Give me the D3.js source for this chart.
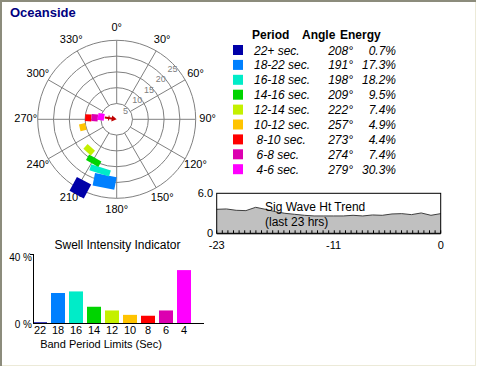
<!DOCTYPE html>
<html>
<head>
<meta charset="utf-8">
<script src="https://cdn.jsdelivr.net/npm/d3@7"></script>
<style>
  body { margin: 0; background: #fff; }
  svg { display: block; font-family: "Liberation Sans", Arial, sans-serif; }
</style>
</head>
<body>
<svg id="chart" width="481" height="368"></svg>
<script>
// Swell bands
const bands = ["22+ sec.", "18-22 sec.", "16-18 sec.", "14-16 sec.", "12-14 sec.", "10-12 sec.", "8-10 sec.", "6-8 sec.", "4-6 sec."];
const periodLo = [22, 18, 16, 14, 12, 10, 8, 6, 4];
const periodHi = [27, 22, 18, 16, 14, 12, 10, 8, 6];
const angles = [208, 191, 198, 209, 222, 257, 273, 274, 279];
const energy = [0.7, 17.3, 18.2, 9.5, 7.4, 4.9, 4.4, 7.4, 30.3];
const spread = [12, 20, 22, 17, 14, 11.5, 14, 18, 25];   // directional spread, degrees
const colors = ["#0000a8", "#0080ff", "#00ecc8", "#00d400", "#c4f000", "#ffc400", "#ff0000", "#dc00b0", "#ff00ff"];
const barLabels = ["22", "18", "16", "14", "12", "10", "8", "6", "4"];
const meanAngle = 279;

// Sig wave height trend (ft), hours -23..0
const trendHours = d3.range(-23, 1);
const trendHeights = [3.6, 3.65, 3.45, 3.4, 3.9, 3.6, 3.25, 3.0, 2.85, 2.7, 2.6, 2.6, 2.6, 2.6, 2.7, 2.6, 2.75, 2.7, 2.9, 2.95, 2.8, 3.05, 2.7, 2.95];

const svg = d3.select("#chart");

// frame
svg.append("line").attr("x1", 1).attr("y1", 0).attr("x2", 1).attr("y2", 366)
    .style("stroke", "#8c8c7c").style("stroke-width", 2);
svg.append("line").attr("x1", 0).attr("y1", 1).attr("x2", 476).attr("y2", 1)
    .style("stroke", "#8c8c7c").style("stroke-width", 2);
svg.append("line").attr("x1", 475.5).attr("y1", 2).attr("x2", 475.5).attr("y2", 366)
    .style("stroke", "#ecead8");
svg.append("line").attr("x1", 2).attr("y1", 365.5).attr("x2", 476).attr("y2", 365.5)
    .style("stroke", "#ecead8");

svg.append("text").attr("x", 10).attr("y", 17)
    .style("font-size", "13px").style("font-weight", "bold").style("fill", "#000080")
    .text("Oceanside");

// ---------- polar plot ----------
const cx = 116.7, cy = 119.3;
const r = d3.scaleLinear().domain([0, 25]).range([0, 79]);
const polar = svg.append("g").attr("transform", `translate(${cx},${cy})`);

polar.selectAll(".ring")
    .data([5, 10, 15, 20, 25])
    .enter().append("circle")
    .attr("r", d => r(d))
    .style("fill", "none").style("stroke", "#808080");

polar.selectAll(".spoke")
    .data(d3.range(0, 360, 30))
    .enter().append("line")
    .attr("x1", d => r(5) * Math.sin(d * Math.PI / 180))
    .attr("y1", d => -r(5) * Math.cos(d * Math.PI / 180))
    .attr("x2", d => r(25) * Math.sin(d * Math.PI / 180))
    .attr("y2", d => -r(25) * Math.cos(d * Math.PI / 180))
    .style("stroke", "#808080");

polar.selectAll(".ringLabel")
    .data([5, 10, 15, 20, 25])
    .enter().append("text")
    .attr("x", d => (r(d) - 4) * Math.sin(48 * Math.PI / 180))
    .attr("y", d => -(r(d) - 4) * Math.cos(48 * Math.PI / 180))
    .attr("text-anchor", "middle").attr("dominant-baseline", "middle")
    .style("font-size", "9px").style("fill", "#808080")
    .text(d => d);

polar.selectAll(".angLabel")
    .data(d3.range(0, 360, 30))
    .enter().append("text")
    .attr("x", d => 91 * Math.sin(d * Math.PI / 180))
    .attr("y", d => -91 * Math.cos(d * Math.PI / 180))
    .attr("text-anchor", "middle").attr("dominant-baseline", "middle")
    .style("font-size", "11px").style("fill", "#000")
    .text(d => d + "°");

// band boxes
polar.selectAll(".band")
    .data(bands)
    .enter().append("rect")
    .attr("transform", (d, i) => `rotate(${angles[i]})`)
    .attr("x", (d, i) => {
        const rc = (r(periodLo[i]) + r(periodHi[i])) / 2;
        return -rc * spread[i] * Math.PI / 360;
    })
    .attr("width", (d, i) => {
        const rc = (r(periodLo[i]) + r(periodHi[i])) / 2;
        return rc * spread[i] * Math.PI / 180;
    })
    .attr("y", (d, i) => -r(periodHi[i]))
    .attr("height", (d, i) => r(periodHi[i]) - r(periodLo[i]))
    .style("fill", (d, i) => colors[i]);

// mean direction arrow
const arrow = polar.append("g").attr("transform", `rotate(${meanAngle})`);
arrow.append("line").attr("x1", 0).attr("y1", -2).attr("x2", 0).attr("y2", -12)
    .style("stroke", "#c00000").style("stroke-width", 2);
arrow.append("line").attr("x1", -2.5).attr("y1", -8).attr("x2", 2.5).attr("y2", -8)
    .style("stroke", "#c00000").style("stroke-width", 1);
arrow.append("path").attr("d", "M0,0 L-3,-5 L3,-5 Z").style("fill", "#c00000");

// ---------- legend ----------
const legend = svg.append("g");
const rowY = i => 50 + i * 14.9;
legend.append("text").attr("x", 252).attr("y", 39).style("font-size", "12px").style("font-weight", "bold").text("Period");
legend.append("text").attr("x", 302).attr("y", 39).style("font-size", "12px").style("font-weight", "bold").text("Angle");
legend.append("text").attr("x", 340).attr("y", 39).style("font-size", "12px").style("font-weight", "bold").text("Energy");

legend.selectAll(".sw").data(bands).enter().append("rect")
    .attr("x", 233).attr("y", (d, i) => rowY(i) - 5)
    .attr("width", 10).attr("height", 10)
    .style("fill", (d, i) => colors[i]);
legend.selectAll(".per").data(bands).enter().append("text")
    .attr("x", (d, i) => i >= 6 ? 256.5 : 254).attr("y", (d, i) => rowY(i) + 4.5)
    .style("font-size", "12px").style("font-style", "italic")
    .text(d => d);
legend.selectAll(".ang").data(angles).enter().append("text")
    .attr("x", 353).attr("y", (d, i) => rowY(i) + 4.5).attr("text-anchor", "end")
    .style("font-size", "12px").style("font-style", "italic")
    .text(d => d + "°");
legend.selectAll(".en").data(energy).enter().append("text")
    .attr("x", 396).attr("y", (d, i) => rowY(i) + 4.5).attr("text-anchor", "end")
    .style("font-size", "12px").style("font-style", "italic")
    .text(d => d.toFixed(1) + "%");

// ---------- trend chart ----------
const tx = d3.scaleLinear().domain([-23, 0]).range([216.7, 440.7]);
const ty = d3.scaleLinear().domain([0, 6]).range([233.3, 193.3]);
const trend = svg.append("g");
trend.append("path")
    .datum(trendHours)
    .attr("d", d3.area().x(d => tx(d)).y0(ty(0)).y1((d, i) => ty(trendHeights[i])))
    .style("fill", "#c0c0c0");
trend.append("path")
    .datum(trendHours)
    .attr("d", d3.line().x(d => tx(d)).y((d, i) => ty(trendHeights[i])))
    .style("fill", "none").style("stroke", "#404040").style("stroke-width", 1);
trend.append("rect")
    .attr("x", tx(-23)).attr("y", ty(6))
    .attr("width", tx(0) - tx(-23)).attr("height", ty(0) - ty(6))
    .style("fill", "none").style("stroke", "#000");
trend.selectAll(".tk").data(d3.range(0, 41)).enter().append("line")
    .attr("x1", d => tx(-23 + d * 23 / 40)).attr("x2", d => tx(-23 + d * 23 / 40))
    .attr("y1", ty(0)).attr("y2", ty(0) - 3)
    .style("stroke", "#000");
trend.append("line").attr("x1", tx(-23)).attr("x2", tx(0)).attr("y1", ty(0) + 0.5).attr("y2", ty(0) + 0.5)
    .style("stroke", "#000");
trend.append("text").attr("x", 213).attr("y", ty(6) + 4).attr("text-anchor", "end")
    .style("font-size", "11px").text("6.0");
trend.append("text").attr("x", 213).attr("y", ty(0) + 4).attr("text-anchor", "end")
    .style("font-size", "11px").text("0");
trend.selectAll(".tl").data([-23, -11, 0]).enter().append("text")
    .attr("x", d => tx(d)).attr("y", 249).attr("text-anchor", "middle")
    .style("font-size", "11px").text(d => d);
trend.append("text").attr("x", 265).attr("y", 211).style("font-size", "12px").text("Sig Wave Ht Trend");
trend.append("text").attr("x", 265).attr("y", 226).style("font-size", "12px").text("(last 23 hrs)");

// ---------- swell intensity bars ----------
const bx = d3.scaleBand().domain(barLabels).range([31, 193]).paddingInner(4 / 18).paddingOuter(2 / 18);
const by = d3.scaleLinear().domain([0, 40]).range([323.5, 253]);
const bars = svg.append("g");
bars.append("text").attr("x", 117.5).attr("y", 249).attr("text-anchor", "middle")
    .style("font-size", "12px").text("Swell Intensity Indicator");
bars.selectAll(".bar").data(energy).enter().append("rect")
    .attr("x", (d, i) => bx(barLabels[i]))
    .attr("width", bx.bandwidth())
    .attr("y", d => by(d))
    .attr("height", d => by(0) - by(d))
    .style("fill", (d, i) => colors[i]);
bars.append("line").attr("x1", 33.5).attr("x2", 33.5).attr("y1", 254).attr("y2", 324)
    .style("stroke", "#000");
bars.append("line").attr("x1", 33).attr("x2", 204).attr("y1", 323.5).attr("y2", 323.5)
    .style("stroke", "#000");
bars.append("line").attr("x1", 30).attr("x2", 33).attr("y1", 254.5).attr("y2", 254.5).style("stroke", "#000");
bars.append("text").attr("x", 32).attr("y", 261).attr("text-anchor", "end")
    .style("font-size", "10px").text("40 %");
bars.append("text").attr("x", 32).attr("y", 328).attr("text-anchor", "end")
    .style("font-size", "10px").text("0 %");
bars.selectAll(".bl").data(barLabels).enter().append("text")
    .attr("x", d => bx(d) + bx.bandwidth() / 2).attr("y", 334)
    .attr("text-anchor", "middle").style("font-size", "11px")
    .text(d => d);
bars.append("text").attr("x", 101).attr("y", 348).attr("text-anchor", "middle")
    .style("font-size", "11px").text("Band Period Limits (Sec)");
</script>
</body>
</html>
